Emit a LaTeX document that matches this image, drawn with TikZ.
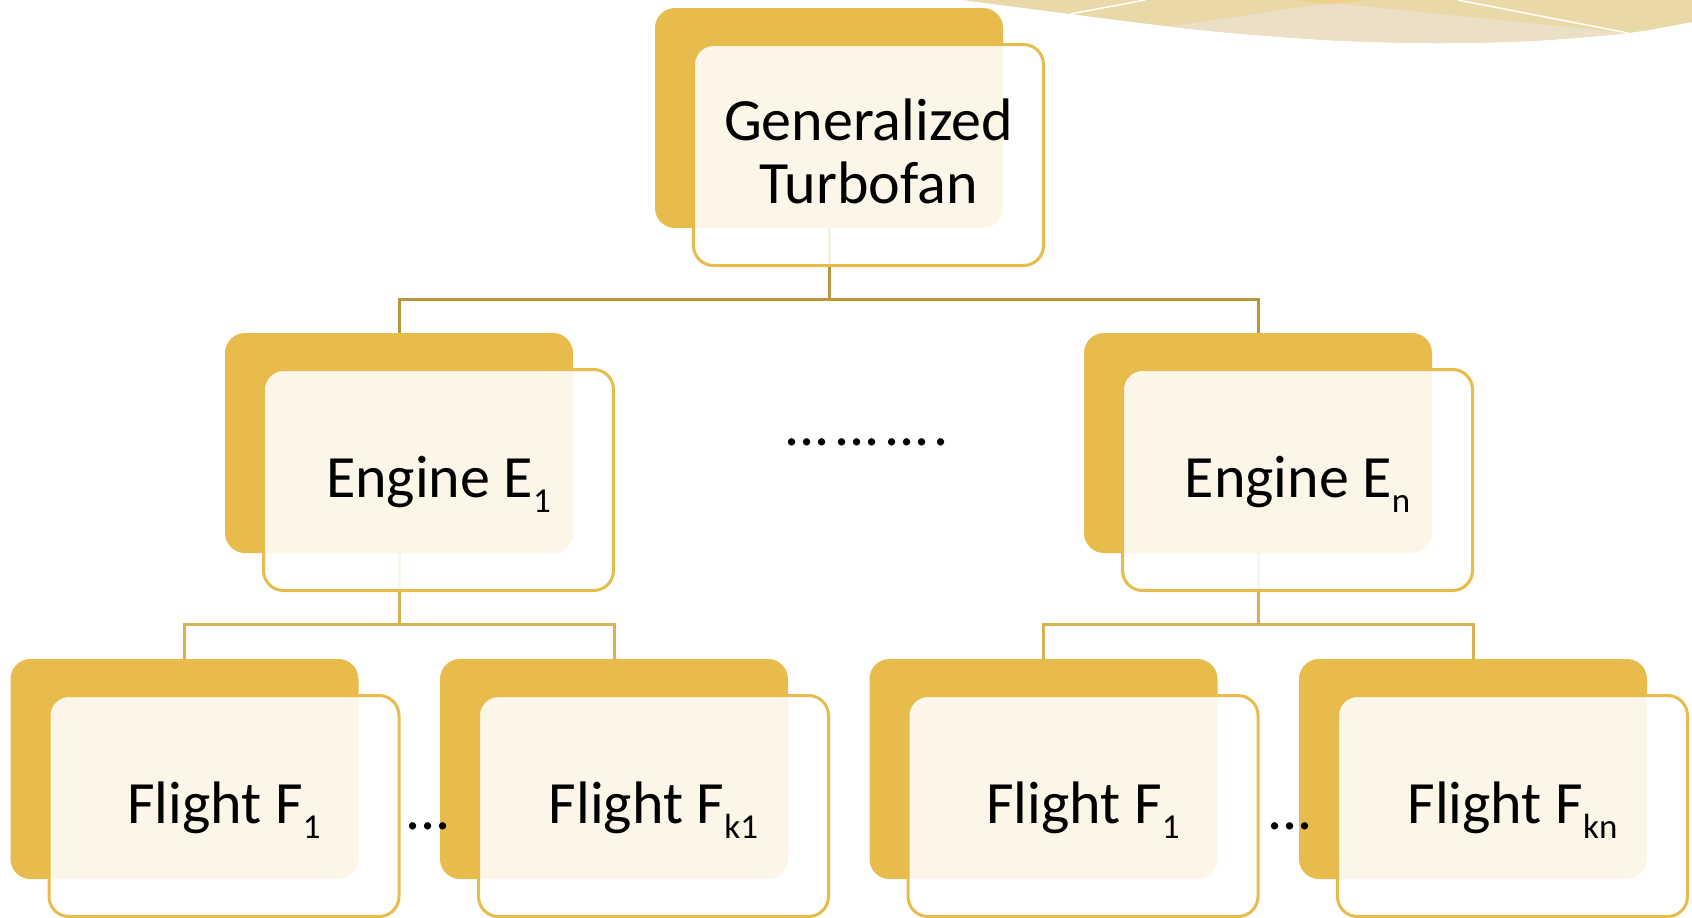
\documentclass[tikz,border=0pt]{standalone}
\usepackage{fontspec}
\setmainfont{Carlito}
\definecolor{gold}{HTML}{E8BC4C}
\definecolor{connA}{HTML}{B8963A}
\definecolor{connB}{HTML}{D8B250}
\definecolor{decoA}{HTML}{EAD9A8}
\definecolor{decoB}{HTML}{EBE0C5}
\definecolor{decoC}{HTML}{EFD08A}
\newcommand\subx[1]{\raisebox{-7.5pt}{\fontsize{17.5pt}{17.5pt}\selectfont #1}}
\begin{document}
\begin{tikzpicture}[x=0.5pt,y=-0.5pt,
  backbox/.style={rectangle, rounded corners=10pt, fill=gold, draw=none,
    minimum width=174pt, minimum height=110pt, outer sep=0pt, inner sep=0pt},
  frontbox/.style={rectangle, rounded corners=10pt, fill=white, fill opacity=0.88,
    draw=gold, line width=1.5pt, minimum width=175pt, minimum height=110.5pt,
    outer sep=0pt, inner sep=0pt},
  label/.style={font=\fontsize{30pt}{31.5pt}\selectfont, inner sep=0pt, text=black},
  connone/.style={draw=connA, line width=1.5pt},
  conntwo/.style={draw=connB, line width=1.5pt}]
\useasboundingbox (0,0) rectangle (1692,917);

% decoration at top right
\fill[decoA] plot[smooth] coordinates {(962,0) (1070,14) (1200,30) (1326,40) (1430,43) (1530,41) (1628,33) (1692,22)} -- (1692,0) -- cycle;
\begin{scope}
  \clip plot[smooth] coordinates {(962,0) (1070,14) (1200,30) (1326,40) (1430,43) (1530,41) (1628,33) (1692,22)} -- (1692,0) -- cycle;
  \fill[decoB] (1160,28) -- (1330,3) -- (1628,33) -- (1628,70) -- (1160,70) -- cycle;
  \fill[decoC] (1290,0) -- (1365,0) -- (1330,4) -- cycle;
  \draw[white, line width=0.7pt] (1070,14) -- (1145,0);
  \draw[white, line width=0.7pt] (1458,0) -- (1628,33);
\end{scope}

% back boxes
\node[backbox] (tB) at (829,118) {};
\node[backbox] (e1B) at (399,443) {};
\node[backbox] (enB) at (1258,443) {};
\node[backbox] (f1B) at (184.5,769) {};
\node[backbox] (fk1B) at (614,769) {};
\node[backbox] (fn1B) at (1043.5,769) {};
\node[backbox] (fknB) at (1473,769) {};

% connectors
\coordinate (j0) at (829,299);
\coordinate (j1) at (399,624);
\coordinate (j2) at (1258,624);
\draw[connone] (tB.south) -- (j0) -| (e1B.north);
\draw[connone] (j0) -| (enB.north);
\draw[conntwo] (e1B.south) -- (j1) -| (f1B.north);
\draw[conntwo] (j1) -| (fk1B.north);
\draw[conntwo] (enB.south) -- (j2) -| (fn1B.north);
\draw[conntwo] (j2) -| (fknB.north);

% front boxes
\node[frontbox] (tF) at (868.5,155) {};
\node[frontbox] (e1F) at (438.5,480) {};
\node[frontbox] (enF) at (1297.5,480) {};
\node[frontbox] (f1F) at (224,806) {};
\node[frontbox] (fk1F) at (653.5,806) {};
\node[frontbox] (fn1F) at (1083,806) {};
\node[frontbox] (fknF) at (1512.5,806) {};

% texts
\node[label, align=center, anchor=center] (tT) at ([yshift=2pt]tF.center) {Generalized\\Turbofan};
\node[label, anchor=base] (e1T) at ([yshift=-8.5pt]e1F.center) {Engine E\subx{1}};
\node[label, anchor=base] (enT) at ([yshift=-8.5pt]enF.center) {Engine E\subx{n}};
\node[label, anchor=base] (f1T) at ([yshift=-8.5pt]f1F.center) {Flight F\subx{1}};
\node[label, anchor=base] (fk1T) at ([yshift=-8.5pt]fk1F.center) {Flight F\subx{k1}};
\node[label, anchor=base] (fn1T) at ([yshift=-8.5pt]fn1F.center) {Flight F\subx{1}};
\node[label, anchor=base] (fknT) at ([yshift=-8.5pt]fknF.center) {Flight F\subx{kn}};

% ellipses
\node[label, anchor=base] (dotsMid) at (867,445) {...\kern2.2pt...\kern2.2pt...\kern2.2pt.};
\node[label, anchor=base] (dotsL) at (428,829) {...};
\node[label, anchor=base] (dotsR) at (1290,829) {...};
\end{tikzpicture}
\end{document}
